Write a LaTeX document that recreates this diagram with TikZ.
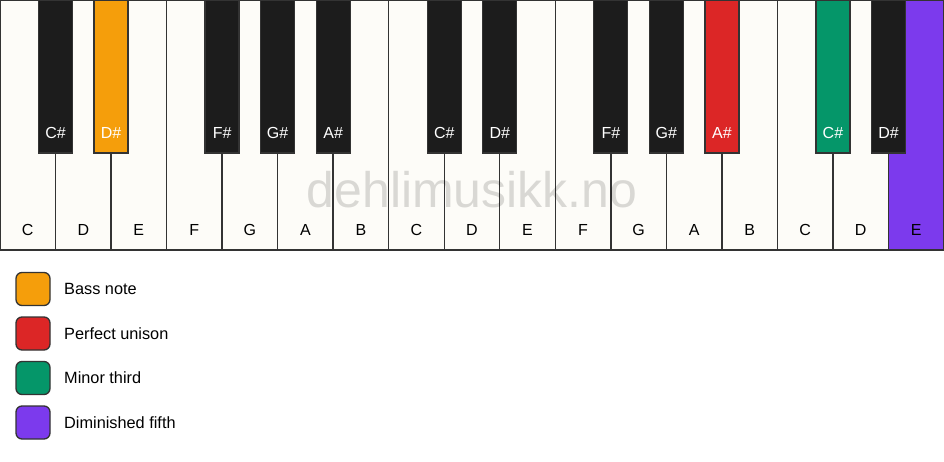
\documentclass[tikz,border=0pt]{standalone}
\usepackage{fontspec}
\setmainfont{Liberation Sans}
\usepackage{xcolor}
\definecolor{ivory}{HTML}{FDFCF8}
\definecolor{keyblack}{HTML}{1C1C1C}
\definecolor{keyline}{HTML}{333333}
\definecolor{bassorange}{HTML}{F59E0B}
\definecolor{unisonred}{HTML}{DC2626}
\definecolor{thirdgreen}{HTML}{059669}
\definecolor{fifthpurple}{HTML}{7C3AED}

\tikzset{
  whitekey/.style={draw=keyline, line width=1.4pt, fill=ivory},
  blackkey/.style={draw=keyline, line width=1.3pt, fill=keyblack},
  keylabel/.style={font=\fontsize{16}{16}\selectfont, inner sep=0pt},
  legendbox/.style={draw=keyline, line width=1.3pt, rounded corners=6pt, minimum width=34pt, minimum height=33pt, inner sep=0pt},
  legendtext/.style={font=\fontsize{16.3}{16}\selectfont, anchor=west, inner sep=0pt}
}

\begin{document}
\begin{tikzpicture}[x=1pt, y=-1pt]

  \useasboundingbox (0,0) rectangle (944,461);
  \def\w{55.53}

  % white keys
  \fill[ivory] (0,0) rectangle (944,250);
  \fill[fifthpurple] (16*\w,0) rectangle (944,250);
  \foreach \n [count=\i from 0] in {C,D,E,F,G,A,B,C,D,E,F,G,A,B,C,D,E} {
    \draw[whitekey, fill=none] (\i*\w,0) rectangle ++(\w,250);
    \ifnum\i=16
      \node[keylabel, text=black] (w\i) at (\i*\w+\w/2,230) {\n};
    \else
      \node[keylabel] (w\i) at (\i*\w+\w/2,230) {\n};
    \fi
  }

  \node[font=\fontsize{50}{50}\selectfont, text=black, text opacity=0.14, inner sep=0pt] (mark) at (472,190) {dehlimusikk.no};

  % black keys
  \foreach \j/\n/\c in {0/C\#/keyblack, 1/D\#/bassorange, 3/F\#/keyblack, 4/G\#/keyblack,
                        5/A\#/keyblack, 7/C\#/keyblack, 8/D\#/keyblack, 10/F\#/keyblack,
                        11/G\#/keyblack, 12/A\#/unisonred, 14/C\#/thirdgreen, 15/D\#/keyblack} {
    \filldraw[blackkey, fill=\c] ({(\j+1)*\w-17},0) rectangle ++(34,153);
    \node[keylabel, text=white] (b\j) at ({(\j+1)*\w},133) {\n};
  }

  % legend
  \node[legendbox, fill=bassorange] (bass) at (33,289) {};
  \node[legendtext] (basstext) at (64,289) {Bass note};
  \node[legendbox, fill=unisonred] (unison) at (33,333.5) {};
  \node[legendtext] (unisontext) at (64,333.5) {Perfect unison};
  \node[legendbox, fill=thirdgreen] (third) at (33,378) {};
  \node[legendtext] (thirdtext) at (64,378) {Minor third};
  \node[legendbox, fill=fifthpurple] (fifth) at (33,422.5) {};
  \node[legendtext] (fifthtext) at (64,422.5) {Diminished fifth};

\end{tikzpicture}
\end{document}
